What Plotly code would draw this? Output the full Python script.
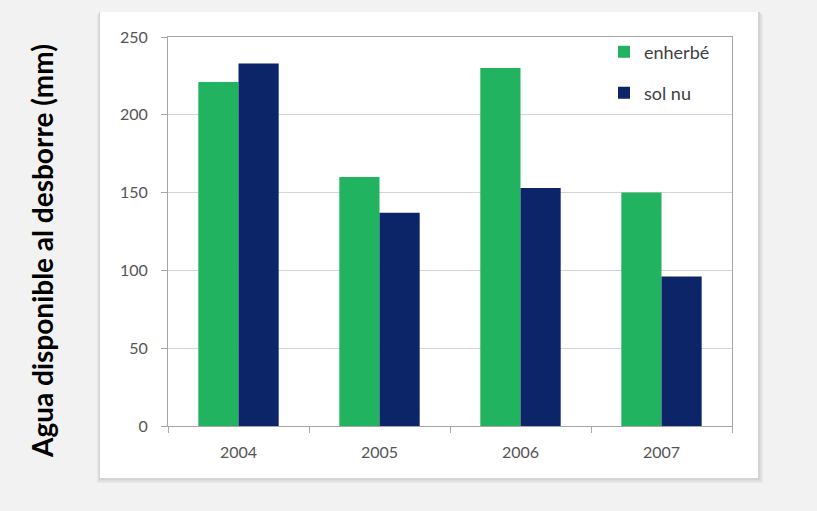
import plotly.graph_objects as go

years = ["2004", "2005", "2006", "2007"]
enherbe = [221, 160, 230, 150]
sol_nu = [233, 137, 153, 96]
y_ticks = [0, 50, 100, 150, 200, 250]

GREEN = "#21b35f"
NAVY = "#0b2568"
W, H = 817, 511
L, R, T, B = 168, 85, 37, 85
PW, PH = W - L - R, H - T - B

def px(x):
    return (x - L) / PW

def py(y):
    return (H - B - y) / PH

fig = go.Figure()
fig.add_trace(go.Bar(x=years, y=enherbe, name="enherbé", marker=dict(color=GREEN, line=dict(width=0)),
                     legend="legend", showlegend=True))
fig.add_trace(go.Bar(x=years, y=sol_nu, name="sol nu", marker=dict(color=NAVY, line=dict(width=0)),
                     legend="legend2", showlegend=True))

shapes = []
# soft shadow of the panel
for i, c in enumerate(["#e8e8e8", "#dedede", "#d4d4d4"]):
    o = 5 - i * 1.5
    shapes.append(dict(type="rect", xref="paper", yref="paper", layer="below",
                       x0=px(100 - 3 + i), x1=px(758 + o), y0=py(478 + o), y1=py(12 + o - 2),
                       fillcolor=c, line=dict(width=0)))
shapes.append(dict(type="rect", xref="paper", yref="paper", layer="below",
                   x0=px(100), x1=px(758), y0=py(478), y1=py(12),
                   fillcolor="white", line=dict(width=0)))

tick_font = dict(family="Lato, sans-serif", size=16, color="#555555")
leg_font = dict(family="Lato, sans-serif", size=18, color="#404040")

fig.update_layout(
    width=W, height=H,
    margin=dict(l=L, r=R, t=T, b=B),
    paper_bgcolor="#f2f2f2",
    plot_bgcolor="white",
    showlegend=True,
    barmode="group",
    bargap=0.43,
    bargroupgap=0,
    shapes=shapes,
    xaxis=dict(type="category", tickson="boundaries", ticks="outside", ticklen=6,
               tickcolor="#a6a6a6", showline=True, linecolor="#a6a6a6", linewidth=1,
               mirror=True, showgrid=False, tickfont=tick_font, ticklabelstandoff=12),
    yaxis=dict(range=[0, 250], tickvals=y_ticks, ticks="outside", ticklen=6,
               tickcolor="#a6a6a6", showline=True, linecolor="#a6a6a6", linewidth=1,
               mirror=True, gridcolor="#d4d4d4", gridwidth=1, zeroline=False,
               tickfont=tick_font, ticklabelstandoff=10),
    legend=dict(x=px(604), y=py(52), xanchor="left", yanchor="middle",
                bgcolor="rgba(0,0,0,0)", font=leg_font, itemwidth=30),
    legend2=dict(x=px(604), y=py(93), xanchor="left", yanchor="middle",
                 bgcolor="rgba(0,0,0,0)", font=leg_font, itemwidth=30),
    annotations=[dict(text="<b>Agua disponible al desborre (mm)</b>", xref="paper", yref="paper",
                      x=px(42), y=py(251), xanchor="center", yanchor="middle", textangle=-90,
                      showarrow=False,
                      font=dict(family="Lato, sans-serif", size=28, color="black"))],
)

fig.write_html("out.html")
